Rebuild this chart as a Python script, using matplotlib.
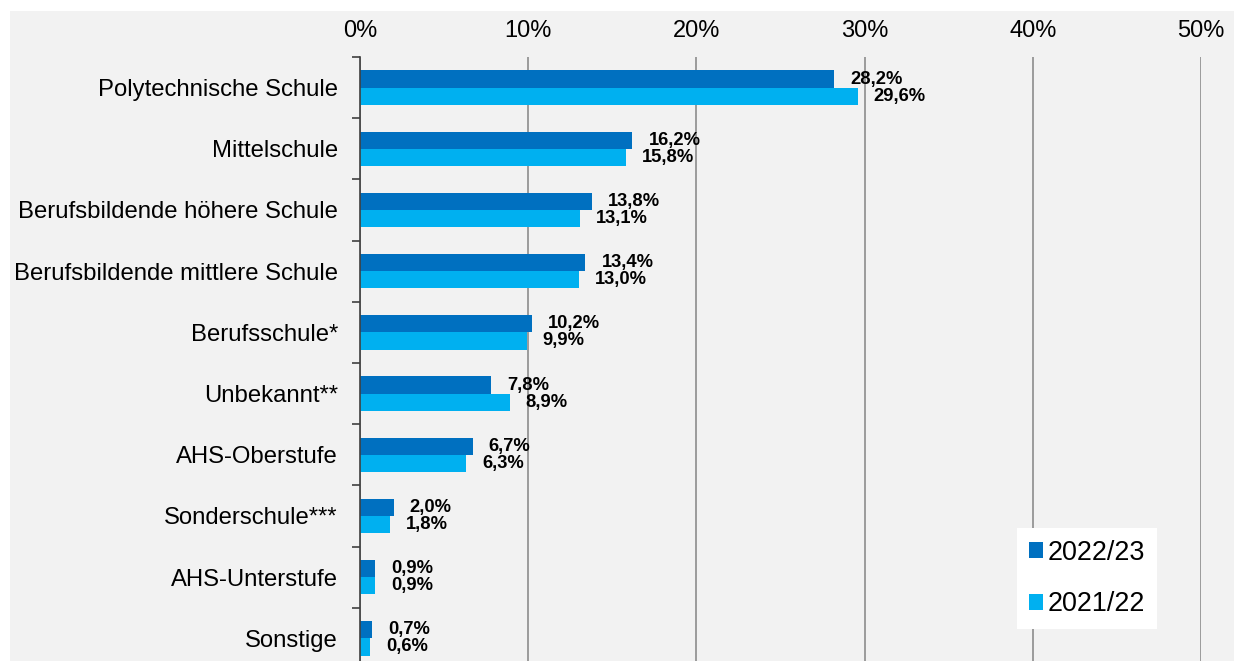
import matplotlib
matplotlib.use("Agg")
import matplotlib.pyplot as plt
from matplotlib.patches import Rectangle
from matplotlib.ticker import FixedLocator

categories = ["Polytechnische Schule", "Mittelschule", "Berufsbildende höhere Schule",
              "Berufsbildende mittlere Schule", "Berufsschule*", "Unbekannt**",
              "AHS-Oberstufe", "Sonderschule***", "AHS-Unterstufe", "Sonstige"]
values_2223 = [28.2, 16.2, 13.8, 13.4, 10.2, 7.8, 6.7, 2.0, 0.9, 0.7]
values_2122 = [29.6, 15.8, 13.1, 13.0, 9.9, 8.9, 6.3, 1.8, 0.9, 0.6]
series_labels = ["2022/23", "2021/22"]
xticks = [0, 10, 20, 30, 40, 50]

plt.rcParams['font.family'] = ['Liberation Sans', 'DejaVu Sans']

W, H = 1234, 661
fig = plt.figure(figsize=(W/100, H/100), dpi=100, facecolor='white')
fig.patches.append(Rectangle((10/W, 0), 1 - 10/W, 1 - 11/H, transform=fig.transFigure,
                             facecolor='#F2F2F2', edgecolor='none', zorder=-10))

ax = fig.add_axes([360/W, -8/H, (1201-360)/W, (669-57)/H])
ax.set_facecolor('none')

dark = '#0070C0'
light = '#00B0F0'
h = 0.28
ys = list(range(len(categories)))
ax.barh([y - h/2 for y in ys], values_2223, height=h, color=dark, label=series_labels[0], zorder=3)
ax.barh([y + h/2 for y in ys], values_2122, height=h, color=light, label=series_labels[1], zorder=3)

for y, v in zip(ys, values_2223):
    ax.annotate(f"{v:.1f}%".replace('.', ','), (v, y - h/2), xytext=(16, 0), textcoords='offset pixels',
                ha='left', va='center', fontsize=13.2, fontweight='bold', color='black')
for y, v in zip(ys, values_2122):
    ax.annotate(f"{v:.1f}%".replace('.', ','), (v, y + h/2), xytext=(16, 0), textcoords='offset pixels',
                ha='left', va='center', fontsize=13.2, fontweight='bold', color='black')

ax.set_xlim(0, 50)
ax.set_ylim(len(categories) - 0.5, -0.5)
ax.set_xticks(xticks)
ax.set_xticklabels([f"{t}%" for t in xticks])
ax.xaxis.tick_top()
ax.tick_params(axis='x', length=0, pad=11, labelsize=17)
ax.grid(axis='x', color='#8C8C8C', linewidth=1.2, zorder=0)
ax.set_yticks(ys)
ax.set_yticklabels(categories)
ax.tick_params(axis='y', which='major', length=0, pad=16, labelsize=17.2)
ax.yaxis.set_minor_locator(FixedLocator([k - 0.5 for k in range(len(categories) + 1)]))
ax.tick_params(axis='y', which='minor', length=6, width=1.2, color='#404040')
for s in ['top', 'right', 'bottom']:
    ax.spines[s].set_visible(False)
ax.spines['left'].set_color('#404040')
ax.spines['left'].set_linewidth(1.2)
ax.spines['left'].set_zorder(4)

leg = ax.legend(loc='lower left', bbox_to_anchor=((1017-360)/841, (669-629)/612), borderaxespad=0,
                frameon=True, fancybox=False, fontsize=19.4, handlelength=0.52, handleheight=0.52,
                handletextpad=0.19, labelspacing=0.95, borderpad=0.43)
leg.get_frame().set_facecolor('white')
leg.get_frame().set_edgecolor('none')
leg.get_frame().set_alpha(1)

fig.savefig('out.png', dpi=100, facecolor='white')
